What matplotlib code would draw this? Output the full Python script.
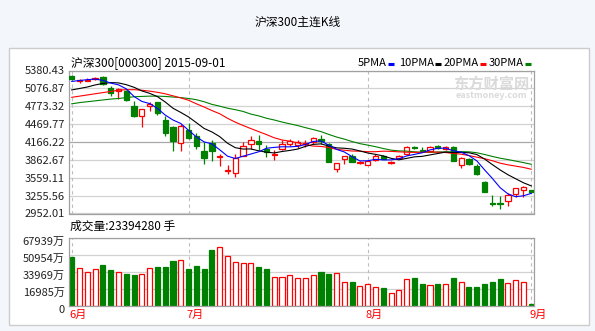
import matplotlib
matplotlib.use('Agg')
import numpy as np
import pandas as pd
import matplotlib.pyplot as plt
from matplotlib.patches import Rectangle
from matplotlib.lines import Line2D
from matplotlib.transforms import ScaledTranslation

plt.rcParams['font.family'] = ['Noto Sans CJK SC', 'DejaVu Sans']

# daily K-line, 60 sessions (6月 .. 9月1日)
open_ = [5283, 5195, 5205, 5235, 5265, 5080, 5025, 5025, 4785, 4615,
         4775, 4840, 4540, 4420, 4150, 4375, 4275, 4005, 4150, 3915,
         3680, 3645, 3930, 4140, 4175, 4055, 3945, 4040, 4140, 4115,
         4130, 4165, 4225, 4125, 3715, 3870, 3930, 3805, 3775, 3855,
         3935, 3815, 3900, 3955, 4080, 4030, 4010, 4105, 4050, 4075,
         3770, 3870, 3755, 3485, 3135, 3130, 3160, 3290, 3350, 3345]
high = [5300, 5240, 5250, 5265, 5290, 5115, 5080, 5055, 4855, 4735,
        4840, 4850, 4600, 4435, 4470, 4485, 4320, 4160, 4195, 3960,
        3770, 3955, 4165, 4265, 4280, 4110, 4025, 4195, 4220, 4195,
        4195, 4250, 4280, 4150, 3815, 3935, 3965, 3845, 3850, 3965,
        3950, 3850, 3950, 4090, 4100, 4085, 4090, 4120, 4090, 4100,
        3905, 3900, 3790, 3500, 3260, 3255, 3305, 3385, 3420, 3355]
low = [5215, 5170, 5200, 5225, 5130, 4950, 4895, 4860, 4590, 4425,
       4695, 4620, 4265, 4010, 4010, 4225, 4040, 3800, 3840, 3755,
       3630, 3575, 3925, 4055, 4025, 3915, 3860, 4025, 4095, 4070,
       4080, 4140, 4140, 3825, 3660, 3800, 3825, 3790, 3770, 3850,
       3870, 3800, 3880, 3940, 4050, 4000, 4000, 4050, 4025, 3845,
       3720, 3780, 3610, 3310, 3075, 3020, 3075, 3235, 3240, 3320]
close_ = [5228, 5215, 5225, 5250, 5145, 5000, 5065, 4884, 4600, 4730,
          4815, 4655, 4320, 4180, 4435, 4235, 4095, 3895, 4010, 3935,
          3695, 3895, 4090, 4195, 4125, 3995, 3970, 4140, 4190, 4165,
          4150, 4235, 4180, 3830, 3810, 3930, 3830, 3825, 3840, 3935,
          3880, 3830, 3925, 4075, 4070, 4015, 4075, 4065, 4080, 3850,
          3895, 3785, 3625, 3315, 3120, 3110, 3260, 3380, 3395, 3325]
# volume, 万手
volume = [49500, 37800, 33800, 36800, 41100, 36100, 33800, 32100, 31100, 32100,
          37800, 39100, 39100, 45200, 45800, 37100, 40100, 37100, 56200, 58900,
          50200, 43900, 42800, 42800, 39100, 37100, 28800, 28800, 30800, 27800,
          27800, 31100, 34400, 32400, 33400, 24400, 24400, 20100, 22100, 19100,
          18400, 13400, 16100, 26800, 28100, 22400, 21100, 22400, 22100, 28100,
          24100, 19100, 19100, 22100, 24400, 27100, 23100, 26100, 24100, 2339]

# moving averages before the window is full
ma5_head = [5195, 5210, 5225, 5235]
ma10_head = [5050, 5075, 5100, 5135, 5160, 5175, 5170, 5140, 5095]
ma20_head = [4925, 4945, 4965, 4985, 5005, 5025, 5045, 5055, 5055, 5045,
             5030, 5010, 4985, 4950, 4915, 4875, 4815, 4760, 4700]
ma30_head = [4815, 4835, 4850, 4865, 4880, 4895, 4905, 4920, 4935, 4940,
             4945, 4945, 4940, 4930, 4920, 4905, 4885, 4850, 4805, 4775,
             4740, 4715, 4685, 4640, 4610, 4570, 4540, 4505, 4475]

months = ['6月', '7月', '8月', '9月']
month_idx = [0, 15, 38, 59]
price_ticks = [2952.01, 3255.56, 3559.11, 3862.67, 4166.22,
               4469.77, 4773.32, 5076.87, 5380.43]
vol_ticks = [0, 16985, 33969, 50954, 67939]

W, H = 595, 331
RED = '#ff0000'
GREEN = '#008000'

fig = plt.figure(figsize=(W / 100, H / 100), dpi=100)
fig.patch.set_facecolor('#f3f6fb')
fig.add_artist(Rectangle((9 / W, 1 - 325 / H), 580 / W, 277 / H, transform=fig.transFigure,
                         facecolor='white', edgecolor='#cccccc', lw=1, zorder=0))

x = np.arange(len(close_))
close_s = pd.Series(close_, dtype=float)


def moving_avg(n, head):
    m = close_s.rolling(n).mean().to_numpy()
    m[:n - 1] = head
    return m


ma5 = moving_avg(5, ma5_head)
ma10 = moving_avg(10, ma10_head)
ma20 = moving_avg(20, ma20_head)
ma30 = moving_avg(30, ma30_head)

# ---- price panel ----
ax = fig.add_axes([69 / W, 1 - 213.5 / H, 465 / W, 143 / H])
ax.set_facecolor('white')
ax.set_xlim(-0.35, 59.35)
ax.set_ylim(price_ticks[0], price_ticks[-1])
for t in price_ticks:
    ax.axhline(t, color='#a8a8a8' if t == 4166.22 else '#d2d2d2', lw=0.9, zorder=0)
for m in month_idx:
    ax.axvline(m, color='#bdbdbd', lw=0.8, ls=(0, (3, 3)), zorder=0)

w = 0.68
for i in x:
    o, h, l, c = open_[i], high[i], low[i], close_[i]
    up = c >= o
    col = RED if up else GREEN
    ax.vlines(i, l, h, color=col, lw=0.9, zorder=2)
    bottom = min(o, c)
    height = max(abs(c - o), 10)
    ax.add_patch(Rectangle((i - w / 2, bottom), w, height,
                           facecolor='white' if up else GREEN, edgecolor=col,
                           lw=0.9, zorder=3))

ax.plot(x, ma30, color=GREEN, lw=0.8, zorder=4)
ax.plot(x, ma20, color=RED, lw=0.8, zorder=4)
ax.plot(x, ma10, color='black', lw=0.8, zorder=4)
ax.plot(x, ma5, color='#0000ff', lw=0.8, zorder=4)

ax.set_yticks(price_ticks)
ax.set_yticklabels(['%.2f' % t for t in price_ticks])
ax.set_xticks([])
ax.tick_params(axis='y', length=0, pad=3, labelsize=8, labelcolor='#222222')
for s in ax.spines.values():
    s.set_color('#a0a0a0')
    s.set_linewidth(0.9)

# watermark
fig.text(491 / W, 1 - 84 / H, '东方财富网', ha='center', va='center', fontsize=11,
         fontweight='bold', color='#dadada')
fig.text(491 / W, 1 - 95.5 / H, 'eastmoney.com', ha='center', va='center', fontsize=6.5,
         fontweight='bold', color='#dadada')

# ---- volume panel ----
axv = fig.add_axes([69 / W, 1 - 306 / H, 465 / W, 67.7 / H])
axv.set_facecolor('white')
axv.set_xlim(-0.35, 59.35)
axv.set_ylim(0, vol_ticks[-1])
for t in vol_ticks[1:]:
    axv.axhline(t, color='#d2d2d2', lw=0.9, zorder=0)
for m in month_idx:
    axv.axvline(m, color='#bdbdbd', lw=0.8, ls=(0, (3, 3)), zorder=0)
ups = [c >= o for o, c in zip(open_, close_)]
axv.bar(x, volume, width=0.65,
        color=['white' if u else GREEN for u in ups],
        edgecolor=[RED if u else GREEN for u in ups], lw=0.9, zorder=2)
axv.set_yticks(vol_ticks)
axv.set_yticklabels(['0'] + ['%d万' % t for t in vol_ticks[1:]])
axv.tick_params(axis='y', length=0, pad=3, labelsize=8, labelcolor='#222222')
shift = ScaledTranslation(0, -3 / 100, fig.dpi_scale_trans)
for lab in axv.get_yticklabels():
    lab.set_transform(lab.get_transform() + shift)
axv.set_xticks([m - 0.25 for m in month_idx])
axv.set_xticklabels(months)
axv.tick_params(axis='x', length=0, pad=3, labelsize=8, labelcolor=RED)
for lab in axv.get_xticklabels():
    lab.set_horizontalalignment('left')
for s in axv.spines.values():
    s.set_color('#a0a0a0')
    s.set_linewidth(0.9)

# ---- header texts ----
fig.text(298 / W, 1 - 22.5 / H, '沪深300主连K线', ha='center', va='center', fontsize=8.5)
fig.text(71 / W, 1 - 62.5 / H, '沪深300[000300] 2015-09-01', ha='left', va='center', fontsize=8.5)
fig.text(70.5 / W, 1 - 226 / H, '成交量:23394280 手', ha='left', va='center', fontsize=8.5)

legend = [('5PMA', '#0000ff', 388), ('10PMA', 'black', 435),
          ('20PMA', RED, 480), ('30PMA', GREEN, 525)]
for label, col, xd in legend:
    fig.text((xd - 1) / W, 1 - 63 / H, label, ha='right', va='center', fontsize=8)
    fig.add_artist(Line2D([xd / W, (xd + 6) / W], [1 - 63.5 / H, 1 - 63.5 / H],
                          transform=fig.transFigure, color=col, lw=2.2,
                          solid_capstyle='butt'))

fig.savefig('out.png', dpi=100, facecolor=fig.get_facecolor())
